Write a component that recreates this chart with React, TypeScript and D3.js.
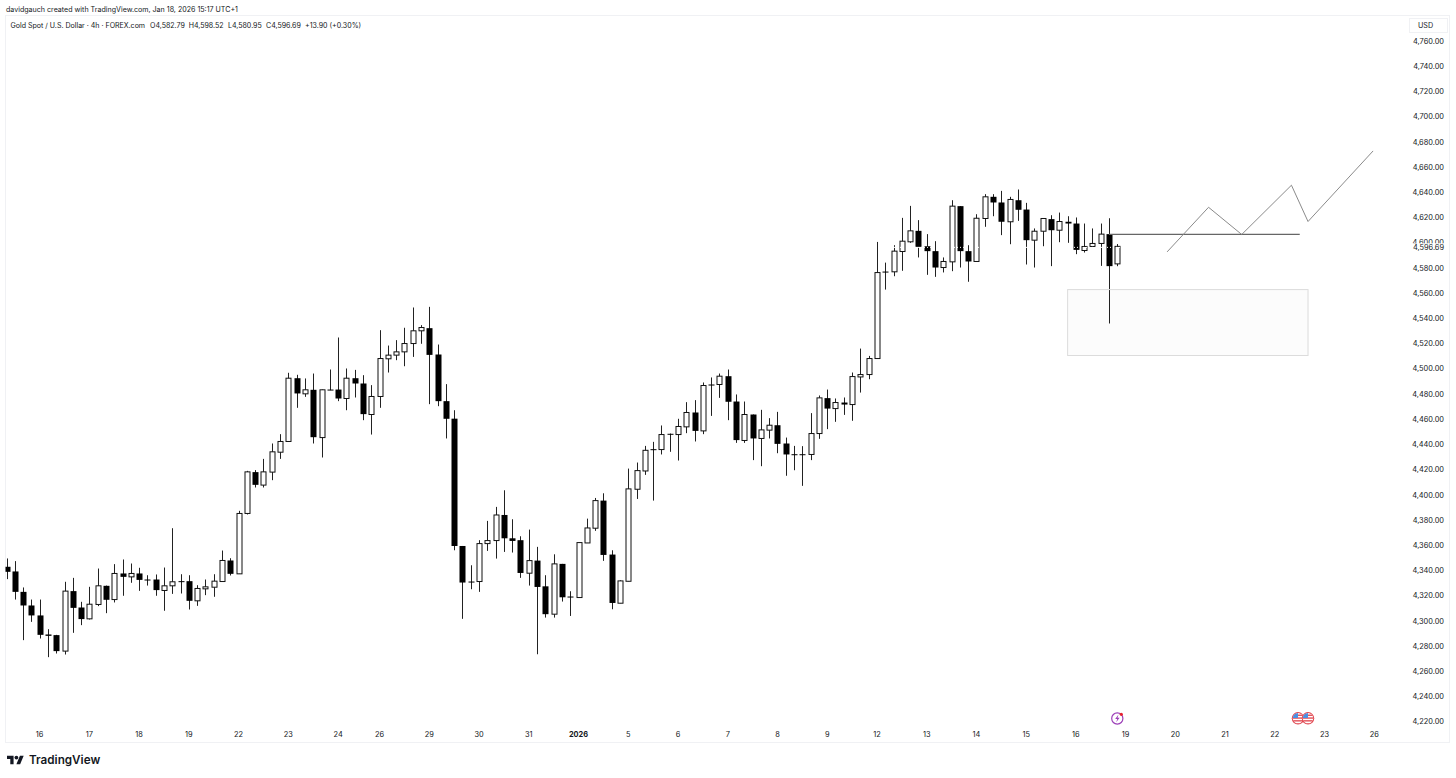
import React from "react";
import * as d3 from "d3";

const opens = [4342.5,4338.8,4322.6,4311.8,4303.9,4288.8,4288.3,4275.6,4323.2,4310.2,4301.2,4312.6,4327.4,4316.5,4337.2,4334.5,4337.2,4332.4,4332.4,4323.7,4327.4,4331.1,4331.1,4315.5,4325,4326.3,4330.8,4347.5,4336.9,
4384.8,4417.6,4407.3,4417.6,4433.4,4441.9,4492.1,4479.7,4482.9,4445,4483.1,4483.1,4476,4492.1,4487.9,4463.3,4477.6,4507.5,4510.4,4513,4519.6,4529.7,4531.8,4510.9,4473.9,
4460,4359,4330.8,4330.8,4360.9,4363.3,4383.6,4365.1,4363.6,4337.4,4347.4,4327,4304.9,4344.8,4318.9,4318.1,4361.4,4373.1,4395,4352.2,4313.6,4331,4404,4418.5,
4435.8,4435.5,4448,4447.4,4453.5,4464.9,4450.3,4487.1,4487.1,4493.7,4473.6,4442.7,4463.3,4444.3,4450.9,4454.8,4440.3,4431.8,4431.8,4431.6,4448.2,4476.3,4468,4472.8,4471.2,4493.1,4495,4507.7,4576.7,
4576.5,4592.6,4600.3,4609,4596.8,4592.9,4579.9,4584.4,4628.6,4592.9,4584.7,4618.8,4636,4631.5,4616.2,4633.3,4625.9,4601.6,4608.7,4618.3,4609.5,4616.2,4614.8,4593.4,4596.6,4599,4606.4,4582.79];
const highs = [4349.1,4347,4326.1,4316.5,4316.5,4293,4288.5,4330.6,4333.7,4314.7,4326.6,4341.1,4327.6,4344.6,4348.3,4345.1,4341.7,4335.8,4336.4,4341.9,4373.1,4336.6,4335.8,4327.9,4332.4,4336.6,4355.4,4349.3,4386.9,
4418.6,4419.2,4428.1,4440.3,4447.7,4496.4,4494.8,4491.9,4495.8,4483.1,4499,4524.4,4499.8,4498.7,4494.5,4486.6,4530.2,4518,4522.3,4532.1,4548.2,4534.2,4548.7,4518.8,4487.4,
4466.7,4359,4343.7,4363.6,4378.9,4390,4403.2,4380.2,4366.7,4372,4358.3,4335.8,4352.4,4344.8,4323.1,4361.7,4380.7,4397.1,4400.8,4355.6,4331.8,4420.4,4425.2,4438.4,
4441.6,4454.6,4448.2,4459.9,4473.1,4474.7,4488.7,4492.7,4495.8,4499,4479.2,4473.6,4463.3,4467,4460.4,4465.4,4445,4438.4,4438.2,4464.4,4478.4,4483.1,4476,4476.8,4496.6,4515.6,4509.8,4600.2,4583.8,
4597.6,4619.3,4628.8,4617.5,4606.4,4600.8,4587.9,4633.3,4628.6,4597.6,4622.2,4638.1,4638.1,4640.7,4636,4641.8,4631.2,4610.9,4618.8,4621.4,4623.5,4620.6,4619.6,4614.8,4610.9,4614.8,4619,4598.52];
const lows = [4332.7,4316.5,4284.3,4298.8,4285.6,4270.8,4273.7,4272.9,4290.1,4296.2,4300.7,4311.3,4305.7,4314.2,4319.5,4329.8,4323.4,4327.6,4319.5,4307.6,4321,4321.3,4308.6,4311.5,4320,4318.7,4330.8,4335.6,4336.9,
4384,4405.4,4405.4,4411.2,4428.1,4441.9,4468.6,4477.3,4440.3,4429.2,4482.6,4473.9,4466.7,4476.8,4458.8,4447.4,4468.6,4496.6,4506.4,4501.6,4509,4519.4,4471.5,4469.9,4444.3,
4355.6,4301.2,4324.7,4322.6,4355.1,4349,4354.3,4353.8,4333.7,4327.6,4273.1,4302.2,4302.2,4314.9,4303.5,4318.1,4361.4,4371,4347.2,4308.8,4313.6,4331,4396.3,4415.4,
4395,4431.6,4433.7,4426.8,4448.5,4441.9,4447.7,4462.2,4476.5,4458.8,4440.8,4440.8,4427.1,4422.3,4444.3,4432.6,4414.7,4419.1,4406.7,4427.1,4444,4451.7,4457.5,4463,4458.3,4480.7,4491.3,4507.7,4562.4,
4573,4577.3,4599.5,4587.9,4574.1,4572.5,4576,4577,4579.9,4568.6,4584.7,4612.2,4620.6,4605.6,4598.4,4616.9,4582.3,4579.9,4596.8,4581,4600,4599.5,4590.5,4591.8,4596.3,4581.2,4535.5,4580.95];
const closes = [4338.5,4322.6,4311.8,4303.9,4288.5,4287.7,4275.6,4323.2,4309.9,4301,4312.8,4327.4,4316.3,4337.2,4334.5,4337.2,4332.1,4331.9,4324,4327.4,4330.6,4330.6,4315.5,4325.3,4326.6,4331.1,4347.5,4336.9,4384.8,
4417.8,4407.5,4417.8,4433.7,4441.9,4492.1,4480,4482.9,4445.3,4482.9,4482.6,4476,4492.1,4487.9,4463.6,4477.6,4507.7,4510.4,4513,4519.6,4529.7,4532.3,4510.6,4473.9,4459.9,
4359,4330,4330,4360.9,4363.3,4383.6,4365.1,4363,4337.6,4347.4,4326.5,4304.9,4344.8,4318.3,4318.3,4361.7,4373.3,4395,4351.9,4313.8,4331.3,4404.3,4418.8,4434.9,
4435,4447.4,4447.4,4453.8,4464.9,4450.3,4486.3,4486.3,4493.7,4473.4,4443,4463.3,4444.3,4451.1,4454.8,4440,4431.6,4431.3,4431.3,4448.2,4476.5,4468,4472.8,4471.2,4493.4,4495,4507.7,4575.9,4575.9,
4592.9,4600.8,4609,4596.3,4592.9,4579.9,4584.7,4628.6,4592.9,4584.7,4619,4636,4631.5,4616.2,4633.9,4625.7,4601.6,4608.7,4618.8,4609.5,4616.4,4614.8,4593.9,4596.6,4599,4606.4,4581,4596.69];

const priceTicks = d3.range(4220, 4761, 20);
const lastPrice = 4596.69;
const dayLabels: [number, string][] = [[4,"16"],[10,"17"],[16,"18"],[22,"19"],[28,"22"],[34,"23"],[40,"24"],[45,"26"],[51,"29"],[57,"30"],[63,"31"],[69,"2026"],[75,"5"],[81,"6"],[87,"7"],[93,"8"],[99,"9"],[105,"12"],[111,"13"],[117,"14"],[123,"15"],[129,"16"],[135,"19"],[141,"20"],[147,"21"],[153,"22"],[159,"23"],[165,"26"]];
const pathIdx = [140,145,149,155,157,164.85];
const pathPrices = [4592.3,4627.7,4606.1,4645.2,4616.4,4672.4];
const levelPrice = 4606.2;
const levelSpan = [133,156];
const zoneSpan = [128,157];
const zonePrices = [4562.4,4510.1];
const title = "davidgauch created with TradingView.com, Jan 18, 2026 15:17 UTC+1";
const legend = "Gold Spot / U.S. Dollar · 4h · FOREX.com";
const ohlc = ["O4,582.79","H4,598.52","L4,580.95","C4,596.69","+13.90 (+0.30%)"];
const ohlcX = [150, 188.7, 228, 266, 305];
const flagX = [1298, 1308];

const FONT = "Inter, 'Noto Sans', sans-serif";
const INK = "#131722";

export default function App() {
  const x = d3.scaleLinear().domain([0, 165]).range([6.5, 6.5 + 8.29 * 165]);
  const y = d3.scaleLinear().domain([4220, 4760]).range([721.2, 40.5]);
  const fmt = d3.format(",.2f");
  const line = d3.line<number>().x((d) => x(d)).y((_, i) => y(pathPrices[i]));
  const bodyW = 6;
  return (
    <svg width={1456} height={778} style={{ position: "fixed", left: 0, top: 0, background: "#fff" }} fontFamily={FONT}>
      <defs>
        <clipPath id="plot"><rect x={5.5} y={18} width={1404} height={724} /></clipPath>
        {flagX.map((cx, i) => (
          <clipPath id={`fl${i}`} key={cx}><circle cx={cx} cy={718.3} r={5.2} /></clipPath>
        ))}
      </defs>
      <text x={6} y={9} dominantBaseline="central" fontSize={7.1} fill={INK}>{title}</text>
      <rect x={5.5} y={15.5} width={1444} height={727} fill="none" stroke="#f0f1f4" />
      <g clipPath="url(#plot)">
        {opens.map((o, i) => {
          const c = closes[i];
          const up = c >= o;
          const top = y(Math.max(o, c));
          const bot = y(Math.min(o, c));
          const cx = Math.round(x(i)) + 0.5;
          return (
            <g key={i}>
              <line x1={cx} x2={cx} y1={y(highs[i])} y2={y(lows[i])} stroke="#222" strokeWidth={1} />
              {up ? (
                <rect x={cx - bodyW / 2 + 0.5} y={top} width={bodyW - 1} height={Math.max(bot - top, 1)} fill="#fff" stroke="#111" strokeWidth={1} />
              ) : (
                <rect x={cx - bodyW / 2} y={top} width={bodyW} height={Math.max(bot - top, 1)} fill="#000" />
              )}
            </g>
          );
        })}
        <line x1={6} x2={1409} y1={y(lastPrice) + 1} y2={y(lastPrice) + 1} stroke="#fff" strokeWidth={1} strokeDasharray="1 2" />
        <rect x={x(zoneSpan[0])} y={y(zonePrices[0])} width={x(zoneSpan[1]) - x(zoneSpan[0])} height={y(zonePrices[1]) - y(zonePrices[0])} fill="#000" fillOpacity={0.012} stroke="#dcdcdc" strokeWidth={1} />
        <line x1={x(levelSpan[0])} x2={x(levelSpan[1])} y1={y(levelPrice)} y2={y(levelPrice)} stroke="#666" strokeWidth={1.4} />
        <path d={line(pathIdx) || ""} fill="none" stroke="#8a8a8a" strokeWidth={1} />
      </g>

      <rect x={1409.5} y={18.5} width={38} height={14} fill="#fff" stroke="#f0f1f4" />
      <text x={1418} y={25.5} dominantBaseline="central" fontSize={7.2} fill={INK}>USD</text>
      {priceTicks.map((p) => (
        <text key={p} x={1444} y={y(p) + 0.7} textAnchor="end" dominantBaseline="central" fontSize={7.4} fill={INK}>{fmt(p)}</text>
      ))}
      <rect x={1411} y={243.3} width={37} height={9} fill="#fff" />
      <text x={1444} y={247.5} textAnchor="end" dominantBaseline="central" fontSize={7.4} fill={INK}>{fmt(lastPrice)}</text>

      {dayLabels.map(([i, s]) => (
        <text key={i} x={x(i)} y={734.5} textAnchor="middle" dominantBaseline="central" fontSize={7.4} fontWeight={s === "2026" ? 700 : 400} fill={INK}>{s}</text>
      ))}

      <text x={10.5} y={25} dominantBaseline="central" fontSize={7.05} fill={INK}>{legend}</text>
      {ohlc.map((s, i) => (
        <text key={s} x={ohlcX[i]} y={25} dominantBaseline="central" fontSize={7.05} fill={INK}>{s}</text>
      ))}

      {/* event icons */}
      <g>
        <circle cx={1117.3} cy={718.5} r={5.6} fill="#fff" stroke="#9c3fb8" strokeWidth={1.2} />
        <path d="M1118.5 714.6 L1115.2 719 H1117.3 L1116.2 722.3 L1119.6 717.8 H1117.5 Z" fill="#9c3fb8" />
        <circle cx={1121.3} cy={714.3} r={1.6} fill="#e6222e" />
      </g>
      {flagX.map((cx, i) => (
        <g key={cx}>
          <circle cx={cx} cy={718.3} r={6.2} fill="#e0434c" />
          <g clipPath={`url(#fl${i})`}>
            <rect x={cx - 6} y={712} width={12} height={12} fill="#fff" />
            {[714.6, 717.4, 720.2, 723].map((yy) => (
              <rect key={yy} x={cx - 6} y={yy} width={12} height={1.3} fill="#e0434c" />
            ))}
            <rect x={cx - 6} y={712} width={6} height={6} fill="#4a90e2" />
          </g>
        </g>
      ))}

      {/* brand */}
      <g transform="translate(7,753.8) scale(0.47)" fill="#131722">
        <path d="M14 22H7V11H0V4h14v18zM28 22h-8l7.5-18h8L28 22z" />
        <circle cx={20} cy={8} r={4} />
      </g>
      <text x={29} y={760} dominantBaseline="central" fontSize={11.7} fontWeight={600} fill="#131722">TradingView</text>
    </svg>
  );
}
